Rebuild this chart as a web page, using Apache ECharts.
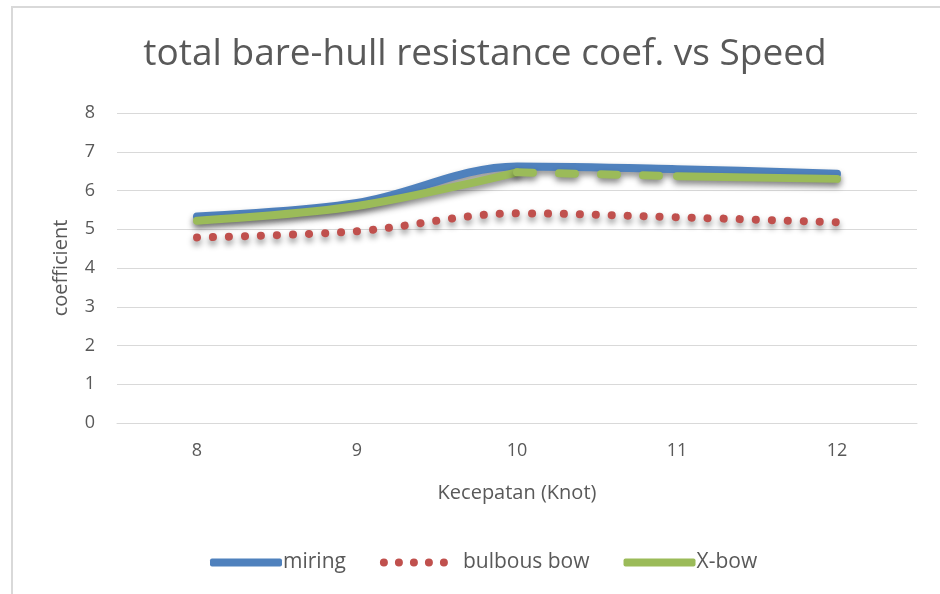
<!DOCTYPE html>
<html>
<head>
<meta charset="utf-8">
<script src="https://cdn.jsdelivr.net/npm/echarts@6/dist/echarts.min.js"></script>
<style>
  html, body { margin: 0; padding: 0; background: #fff; }
  #chart { width: 940px; height: 594px; }
</style>
</head>
<body>
<div id="chart"></div>
<script>
// Speed in knots and resistance coefficients per hull form
const speeds = ['8', '9', '10', '11', '12'];
const miring = [5.33, 5.68, 6.62, 6.55, 6.43];
const bulbousBow = [4.79, 4.95, 5.41, 5.31, 5.18];
const xBow = [5.22, 5.60, 6.47, 6.37, 6.30];
const yTicks = [0, 1, 2, 3, 4, 5, 6, 7, 8];

const FONT = '"Open Sans", "Noto Sans", sans-serif';
const TEXT = '#595959';
const BLUE = '#4f81bd';
const RED = '#c0504d';
const GREEN = '#9bbb59';

// The X-bow curve is drawn in three pieces: solid up to 10 kn,
// dashed between 10 and 11 kn, solid again from 11 kn.
const pick = (arr, from, to) => arr.map((v, i) => (i >= from && i <= to ? v : '-'));

const shadow = {
  shadowColor: 'rgba(0,0,0,0.45)',
  shadowBlur: 6,
  shadowOffsetY: 4
};

function lineSeries(name, data, color, type, extra) {
  return Object.assign({
    name: name,
    type: 'line',
    data: data,
    smooth: 0.35,
    symbol: 'none',
    connectNulls: false,
    lineStyle: Object.assign({ color: color, width: 8, type: type, cap: 'round', join: 'round' }, shadow),
    itemStyle: { color: color },
    emphasis: { disabled: true }
  }, extra || {});
}

const legendText = { fontFamily: FONT, fontSize: 21, color: TEXT, padding: [0, 0, 0, -4] };

const chart = echarts.init(document.getElementById('chart'), null, { renderer: 'canvas' });
chart.setOption({
  animation: false,
  backgroundColor: '#fff',
  graphic: [{
    type: 'rect',
    shape: { x: 12, y: 7, width: 960, height: 620 },
    style: { fill: 'none', stroke: '#d9d9d9', lineWidth: 2 },
    silent: true,
    z: -10
  }],
  title: {
    text: 'total bare-hull resistance coef. vs Speed',
    left: 480,
    textAlign: 'center',
    top: 31,
    textStyle: { fontFamily: FONT, fontSize: 37, fontWeight: 'normal', color: TEXT }
  },
  legend: {
    bottom: 16,
    left: 205,
    itemWidth: 72,
    itemHeight: 8,
    itemGap: 34,
    textStyle: legendText,
    data: [
      { name: 'miring', icon: 'roundRect', itemStyle: { color: BLUE } },
      {
        name: 'bulbous bow',
        icon: 'path://M4,0A4,4,0,1,1,3.99,0ZM19,0A4,4,0,1,1,18.99,0ZM34,0A4,4,0,1,1,33.99,0ZM49,0A4,4,0,1,1,48.99,0ZM64,0A4,4,0,1,1,63.99,0Z',
        itemStyle: { color: RED },
        textStyle: Object.assign({}, legendText, { padding: [0, 0, 0, 8] })
      },
      { name: 'X-bow', icon: 'roundRect', itemStyle: { color: GREEN } }
    ]
  },
  grid: { left: 117, right: 23, top: 113, bottom: 171 },
  xAxis: {
    type: 'category',
    data: speeds,
    boundaryGap: true,
    name: 'Kecepatan (Knot)',
    nameLocation: 'middle',
    nameGap: 60,
    nameTextStyle: { fontFamily: FONT, fontSize: 20, color: TEXT },
    axisLine: { show: true, lineStyle: { color: '#d9d9d9', width: 1 } },
    axisTick: { show: false },
    axisLabel: { fontFamily: FONT, fontSize: 18, color: TEXT, margin: 19 }
  },
  yAxis: {
    type: 'value',
    min: yTicks[0],
    max: yTicks[yTicks.length - 1],
    interval: 1,
    name: 'coefficient',
    nameLocation: 'middle',
    nameGap: 46,
    nameRotate: 90,
    nameTextStyle: { fontFamily: FONT, fontSize: 20, color: TEXT },
    axisLine: { show: false },
    axisTick: { show: false },
    splitLine: { lineStyle: { color: '#d9d9d9', width: 1 } },
    axisLabel: { fontFamily: FONT, fontSize: 18, color: TEXT, margin: 22 }
  },
  series: [
    lineSeries('miring', miring, BLUE, 'solid', { z: 2 }),
    lineSeries('bulbous bow', bulbousBow, RED, [0.1, 15.9], { z: 2 }),
    lineSeries('X-bow', pick(xBow, 0, 2), GREEN, 'solid', { z: 3 }),
    lineSeries('X-bow', pick(xBow, 2, 3), GREEN, [16, 26], { z: 3, smooth: 0 }),
    lineSeries('X-bow', pick(xBow, 3, 4), GREEN, 'solid', { z: 3 })
  ]
});
</script>
</body>
</html>
